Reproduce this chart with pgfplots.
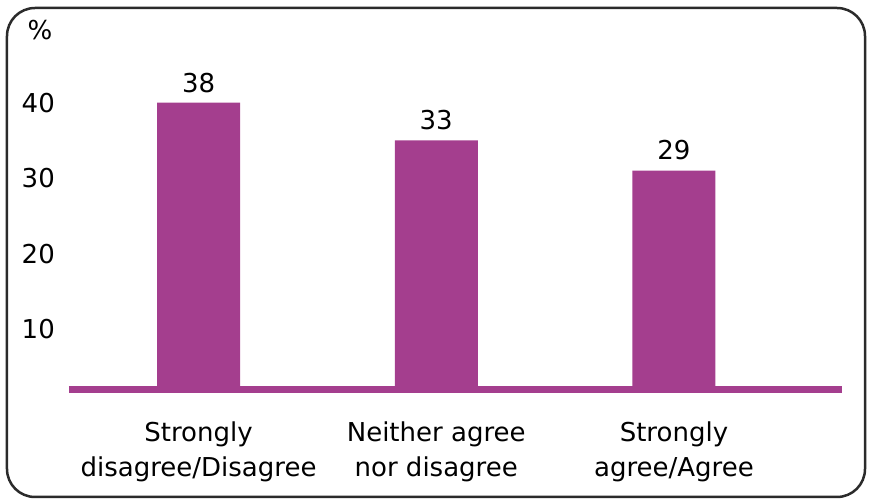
\documentclass[border=0pt]{standalone}
\usepackage{fontspec}
\setmainfont{DejaVu Sans}
\usepackage{pgfplots}
\pgfplotsset{compat=1.18}
\definecolor{barcol}{HTML}{A43E8E}
\definecolor{framecol}{HTML}{2B2B2B}
\newcommand{\chartfont}{\fontsize{26}{35}\selectfont}
\begin{document}
\begin{tikzpicture}[x=1pt,y=1pt]
\useasboundingbox (-69,-112.5) rectangle (801,389.5);
% rounded frame around the whole chart
\draw[framecol, line width=2.5pt, rounded corners=28pt] (-62,-107.5) rectangle (796,381.5);
\begin{axis}[
  at={(0,0)}, anchor=south west,
  scale only axis, width=773pt, height=302pt,
  xmin=-0.545, xmax=2.707, ymin=0, ymax=40,
  clip=false,
  axis x line=bottom, axis y line=left,
  x axis line style={-, line width=7pt, draw=barcol},
  y axis line style={draw=none},
  major tick length=0pt, tick style={draw=none},
  xtick={0,1,2},
  xticklabels={{Strongly\\disagree/Disagree},{Neither agree\\nor disagree},{Strongly\\agree/Agree}},
  ytick={10,20,30,40},
  tick label style={font=\chartfont},
  xticklabel style={align=center, inner sep=0pt, anchor=north, yshift=-32pt},
  yticklabel style={inner sep=0pt, anchor=east, xshift=-14pt, yshift=-15.5pt},
  /pgf/number format/assume math mode=true,
  ybar, bar width=83pt,
  nodes near coords,
  nodes near coords style={font=\chartfont, inner sep=0pt, anchor=south, yshift=10pt, text=black},
]
\addplot[fill=barcol, draw=none] coordinates {(0,38) (1,33) (2,29)};
\end{axis}
\node at (-29,359.5) {\chartfont\%};
\end{tikzpicture}
\end{document}
